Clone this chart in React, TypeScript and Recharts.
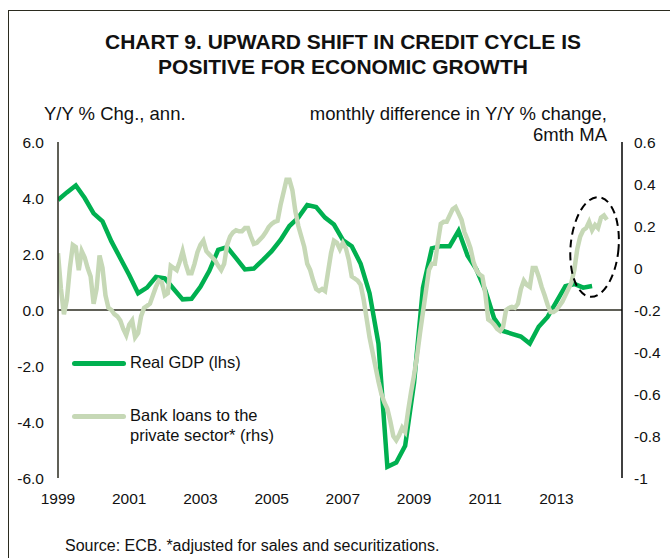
import { LineChart, Line, XAxis, YAxis, ReferenceLine, ReferenceDot } from "recharts";

const START_YEAR = 1999;

// Real GDP, Y/Y %, quarterly from 1999 Q1 (lhs)
const realGdp = [
  3.93, 4.2, 4.45, 4.0, 3.45, 3.17, 2.45, 1.85, 1.25, 0.6,
  0.8, 1.18, 1.13, 0.75, 0.38, 0.4, 0.83, 1.4, 2.15, 2.25,
  1.85, 1.45, 1.48, 1.78, 2.1, 2.5, 3.0, 3.3, 3.75, 3.68,
  3.3, 3.05, 2.5, 2.28, 1.65, 0.6, -1.2, -5.6, -5.45, -4.85,
  -2.6, 0.8, 2.2, 2.28, 2.28, 2.83, 1.95, 1.45, 0.7, -0.3,
  -0.75, -0.85, -0.95, -1.2, -0.6, -0.25, 0.3, 0.85, 0.93, 0.8,
  0.86,
];

// Bank loans to the private sector, monthly difference in Y/Y %, 6mth MA, from Jan 1999 (rhs)
const bankLoans = [
  0.07, -0.1, -0.22, -0.15, 0.0, 0.11, 0.1, -0.01, 0.08, 0.05, 0.0, -0.04,
  -0.17, -0.1, 0.06, 0.0, -0.13, -0.19, -0.2, -0.22, -0.23, -0.25, -0.29, -0.32,
  -0.27, -0.25, -0.33, -0.31, -0.23, -0.19, -0.18, -0.17, -0.13, -0.09, -0.06, -0.07,
  -0.13, -0.12, 0.01, 0.0, -0.01, 0.03, 0.08, 0.02, -0.025, -0.025, 0.02, 0.075,
  0.11, 0.13, 0.08, 0.065, 0.05, 0.035, 0.01, -0.01, 0.02, 0.11, 0.15, 0.17,
  0.18, 0.175, 0.175, 0.19, 0.19, 0.15, 0.115, 0.12, 0.135, 0.15, 0.17, 0.195,
  0.21, 0.22, 0.225, 0.3, 0.36, 0.42, 0.42, 0.37, 0.27, 0.2, 0.15, 0.1,
  0.02, -0.01, -0.06, -0.1, -0.11, -0.1, -0.11, -0.02, 0.07, 0.13, 0.12, 0.09,
  0.12, 0.095, 0.04, -0.04, -0.05, -0.06, -0.08, -0.15, -0.24, -0.33, -0.4, -0.47,
  -0.54, -0.6, -0.64, -0.67, -0.73, -0.8, -0.82, -0.795, -0.76, -0.78, -0.68, -0.59,
  -0.51, -0.42, -0.31, -0.21, -0.11, -0.01, 0.02, 0.02, 0.12, 0.21, 0.22, 0.22,
  0.25, 0.28, 0.29, 0.26, 0.23, 0.17, 0.135, 0.095, 0.03, -0.01, -0.03, -0.04,
  -0.12, -0.245, -0.255, -0.27, -0.29, -0.3, -0.28, -0.2, -0.19, -0.185, -0.19, -0.17,
  -0.1, -0.06, -0.08, -0.09, 0.0, 0.0, -0.04, -0.09, -0.13, -0.175, -0.21, -0.21,
  -0.2, -0.18, -0.16, -0.13, -0.1, -0.07, -0.01, 0.09, 0.15, 0.18, 0.19, 0.22,
  0.18, 0.205, 0.19, 0.24, 0.25, 0.23,
];

const yearTicks = [1999, 2001, 2003, 2005, 2007, 2009, 2011, 2013];
const lhsTicks = [-6, -4, -2, 0, 2, 4, 6];
const rhsTicks = [-1, -0.8, -0.6, -0.4, -0.2, 0, 0.2, 0.4, 0.6];

// dashed ring around the latest readings
const highlight = { t: 2014.07, loans: 0.1 };

const GDP_COLOR = "#00B050";
const LOANS_COLOR = "#C6D8B6";
const FONT = "'Liberation Sans', Arial, sans-serif";

const chartData = bankLoans.map((loans, i) => ({
  t: START_YEAR + i / 12,
  loans,
  gdp: i % 3 === 0 && i / 3 < realGdp.length ? realGdp[i / 3] : null,
}));

const legendItems = [
  { label: ["Real GDP (lhs)"], color: GDP_COLOR },
  { label: ["Bank loans to the", "private sector* (rhs)"], color: LOANS_COLOR },
];

function Ring(props: any) {
  const { cx, cy } = props;
  if (cx == null || cy == null) return null;
  return (
    <ellipse
      cx={cx}
      cy={cy}
      rx={24}
      ry={50}
      fill="none"
      stroke="#000"
      strokeWidth={2}
      strokeDasharray="8 5"
      transform={`rotate(5 ${cx} ${cy})`}
    />
  );
}

export default function App() {
  const tickStyle = { fill: "#111", fontSize: 15.5, fontFamily: FONT };
  return (
    <div
      style={{
        position: "absolute",
        left: 0,
        top: 0,
        width: 670,
        height: 558,
        background: "#fff",
        overflow: "hidden",
        fontFamily: FONT,
        color: "#111",
      }}
    >
      <div
        style={{
          position: "absolute",
          left: 8,
          top: 10,
          width: 700,
          height: 600,
          borderLeft: "1.5px solid #2b2b1f",
          borderTop: "1.5px solid #2b2b1f",
        }}
      />
      <div
        style={{
          position: "absolute",
          left: 0,
          width: 686,
          top: 29,
          textAlign: "center",
          fontWeight: "bold",
          fontSize: 21,
          lineHeight: "25px",
        }}
      >
        CHART 9. UPWARD SHIFT IN CREDIT CYCLE IS
        <br />
        POSITIVE FOR ECONOMIC GROWTH
      </div>
      <div style={{ position: "absolute", left: 44, top: 103, fontSize: 18.5 }}>
        Y/Y % Chg., ann.
      </div>
      <div
        style={{
          position: "absolute",
          right: 63,
          top: 103,
          fontSize: 18.5,
          textAlign: "right",
          lineHeight: "21px",
        }}
      >
        monthly difference in Y/Y % change,
        <br />
        6mth MA
      </div>

      <LineChart
        width={670}
        height={558}
        data={chartData}
        margin={{ top: 142, right: 8, bottom: 50, left: 8 }}
        style={{ position: "absolute", left: 0, top: 0 }}
      >
        <XAxis
          dataKey="t"
          type="number"
          domain={[1999, 2014.84]}
          ticks={yearTicks}
          allowDataOverflow
          axisLine={false}
          tickLine={false}
          tickSize={6}
          tickMargin={9}
          height={30}
          tick={tickStyle}
        />
        <YAxis
          yAxisId="left"
          domain={[-6, 6]}
          ticks={lhsTicks}
          width={50}
          tickLine={false}
          tickSize={8}
          tickMargin={6}
          axisLine={{ stroke: "#2b2b1f", strokeWidth: 1.5 }}
          tickFormatter={(v: number) => v.toFixed(1)}
          tick={tickStyle}
        />
        <YAxis
          yAxisId="right"
          orientation="right"
          domain={[-1, 0.6]}
          ticks={rhsTicks}
          width={40}
          tickLine={false}
          tickSize={6}
          tickMargin={6}
          axisLine={{ stroke: "#000", strokeWidth: 1.5 }}
          tickFormatter={(v: number) => String(Math.round(v * 10) / 10)}
          tick={{ ...tickStyle, textAnchor: "start" }}
        />
        <ReferenceLine yAxisId="left" y={0} stroke="#2b2b1f" strokeWidth={1.5} />
        <Line
          yAxisId="left"
          dataKey="gdp"
          type="linear"
          stroke={GDP_COLOR}
          strokeWidth={4.5}
          dot={false}
          connectNulls
          isAnimationActive={false}
        />
        <Line
          yAxisId="right"
          dataKey="loans"
          type="linear"
          stroke={LOANS_COLOR}
          strokeWidth={4.5}
          dot={false}
          isAnimationActive={false}
        />
        <ReferenceDot
          yAxisId="right"
          x={highlight.t}
          y={highlight.loans}
          shape={<Ring />}
          ifOverflow="visible"
        />
      </LineChart>

      <div style={{ position: "absolute", left: 72, top: 352, fontSize: 16.5 }}>
        {legendItems.map((item, i) => (
          <div
            key={i}
            style={{ display: "flex", alignItems: "flex-start", marginBottom: 33 }}
          >
            <div
              style={{
                width: 54,
                height: 5,
                borderRadius: 3,
                background: item.color,
                marginTop: 9,
                marginRight: 4,
              }}
            />
            <div style={{ lineHeight: "20px" }}>
              {item.label.map((l, j) => (
                <div key={j}>{l}</div>
              ))}
            </div>
          </div>
        ))}
      </div>

      <div style={{ position: "absolute", left: 65, top: 537, fontSize: 16 }}>
        Source: ECB. *adjusted for sales and securitizations.
      </div>
    </div>
  );
}
